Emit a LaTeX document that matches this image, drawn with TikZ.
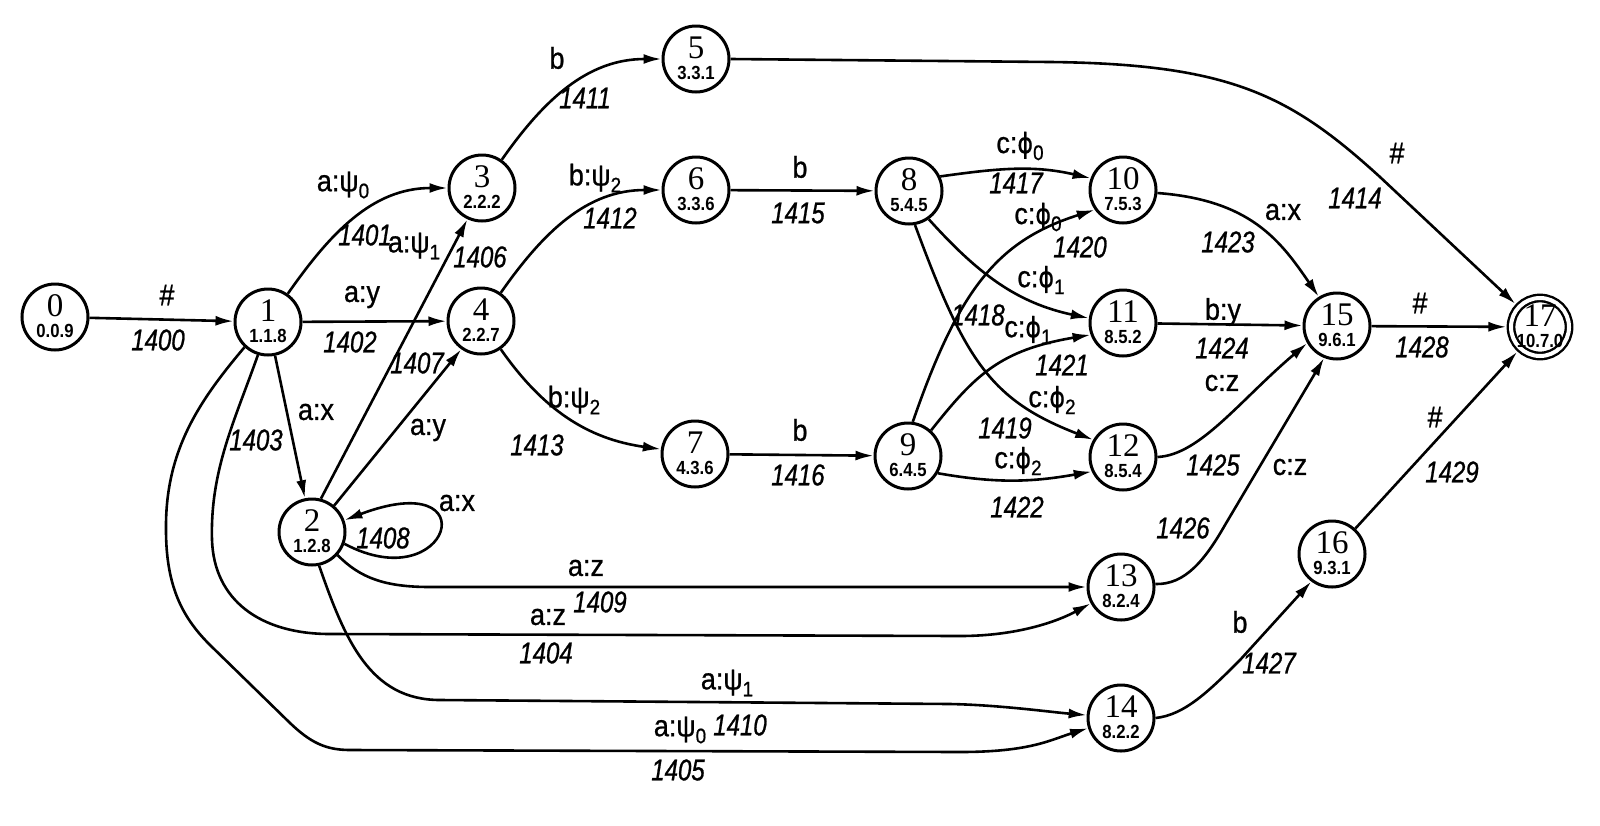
\documentclass[tikz,border=0pt]{standalone}
\usepackage{fontspec}
\setmainfont{Liberation Serif}
\newfontfamily\lsans[FakeStretch=0.9,FakeBold=0.8]{Liberation Sans}
\newfontfamily\lsansit[FakeStretch=0.8,FakeBold=0.8]{Liberation Sans}
\newfontfamily\lsub[FakeStretch=0.88]{Liberation Sans}
\newfontfamily\dvs[FakeStretch=0.85,FakeBold=0.6]{DejaVu Sans}
\usetikzlibrary{arrows.meta}
\newcommand\sbs[1]{\raisebox{-3.5pt}{\fontsize{10.5}{10}\selectfont #1}}
\newcommand\phis{{\dvs\fontsize{14}{14}\selectfont ϕ}}
\newcommand\stnode[4]{\node[st,label={[numl]center:#2},label={[subl]center:#3}] (#1) at (#4) {};}
\tikzset{
  st/.style={circle,draw,line width=1.5pt,minimum size=33pt,inner sep=0pt},
  stf/.style={circle,draw,line width=1.2pt,double,double distance=2pt,minimum size=29pt,inner sep=0pt,outer sep=2.3pt},
  numl/.style={font=\fontsize{16.5}{16}\selectfont,inner sep=0pt,yshift=5.5pt},
  subl/.style={font=\lsub\bfseries\fontsize{9.5}{9.5}\selectfont,inner sep=0pt,yshift=-7pt},
  ed/.style={line width=1.3pt,-{Latex[length=9pt,width=5pt]}},
  ul/.style={font=\lsans\fontsize{15}{15}\selectfont,inner sep=0pt},
  il/.style={font=\lsansit\itshape\fontsize{15}{15}\selectfont,inner sep=0pt},
}
\begin{document}
\begin{tikzpicture}[x=0.5pt,y=0.5pt]
\useasboundingbox (0,0) rectangle (1600,-825);
% states
\stnode{n0}{0}{0.0.9}{55,-317}
\stnode{n1}{1}{1.1.8}{268,-322}
\stnode{n2}{2}{1.2.8}{312,-532}
\stnode{n3}{3}{2.2.2}{482,-188}
\stnode{n4}{4}{2.2.7}{481,-321}
\stnode{n5}{5}{3.3.1}{696,-59}
\stnode{n6}{6}{3.3.6}{696,-190}
\stnode{n7}{7}{4.3.6}{695,-454}
\stnode{n8}{8}{5.4.5}{909,-191}
\stnode{n9}{9}{6.4.5}{908,-456}
\stnode{n10}{10}{7.5.3}{1123,-190}
\stnode{n11}{11}{8.5.2}{1123,-323}
\stnode{n12}{12}{8.5.4}{1123,-457}
\stnode{n13}{13}{8.2.4}{1121,-587}
\stnode{n14}{14}{8.2.2}{1121,-718}
\stnode{n15}{15}{9.6.1}{1337,-326}
\stnode{n16}{16}{9.3.1}{1332,-554}
\node[stf,label={[numl]center:17},label={[subl]center:10.7.0}] (n17) at (1540,-327) {};
% transitions
\draw[ed] (n0) -- (n1);
\draw[ed] (n1) to[out=55,in=180] (n3);
\draw[ed] (n1) -- (n4);
\draw[ed] (n1) -- (n2);
\draw[ed] (n1.-107) .. controls (235,-420) and (210,-470) .. (212,-540)
  .. controls (214,-600) and (260,-634) .. (330,-634) -- (960,-636)
  .. controls (1020,-636) and (1060,-620) .. (n13);
\draw[ed] (n1.-133) .. controls (200,-400) and (165,-450) .. (166,-530)
  .. controls (166,-590) and (185,-620) .. (210,-645) -- (290,-723)
  .. controls (310,-742) and (325,-750) .. (350,-750) -- (960,-752)
  .. controls (1030,-752) and (1050,-740) .. (n14);
\draw[ed] (n2.75) -- (n3.-115);
\draw[ed] (n2.50) -- (n4.-125);
\draw[ed] (n2.-20) .. controls (450,-600) and (490,-465) .. (n2.20);
\draw[ed] (n2.-42) .. controls (360,-578) and (385,-587) .. (430,-587) -- (n13);
\draw[ed] (n2.-78) .. controls (345,-640) and (370,-700) .. (440,-700) -- (950,-704)
  .. controls (1000,-705) and (1050,-712) .. (n14);
\draw[ed] (n3) to[out=55,in=180] (n5);
\draw[ed] (n4) to[out=55,in=180] (n6);
\draw[ed] (n4) to[out=-55,in=172] (n7);
\draw[ed] (n5.east) -- (1050,-62) .. controls (1230,-64) and (1290,-95) .. (1380,-177) -- (n17);
\draw[ed] (n6) -- (n8);
\draw[ed] (n7) -- (n9);
\draw[ed] (n8.25) to[out=8,in=167] (n10.160);
\draw[ed] (n8.-55) to[out=-48,in=168] (n11.172);
\draw[ed] (n8.-80) .. controls (965,-360) and (990,-400) .. (n12.150);
\draw[ed] (n9.82) .. controls (960,-285) and (1000,-240) .. (n10.215);
\draw[ed] (n9.48) .. controls (975,-375) and (1000,-350) .. (n11.200);
\draw[ed] (n9.-30) to[out=-10,in=190] (n12.205);
\draw[ed] (n10.-5) .. controls (1250,-200) and (1280,-240) .. (n15.122);
\draw[ed] (n11) -- (n15);
\draw[ed] (n12.0) .. controls (1200,-455) and (1240,-400) .. (n15.210);
\draw[ed] (n13.5) .. controls (1185,-585) and (1205,-560) .. (1225,-525) -- (n15.-112);
\draw[ed] (n14.0) .. controls (1185,-715) and (1210,-690) .. (1240,-660) -- (n16.233);
\draw[ed] (n15) -- (n17);
\draw[ed] (n16) -- (n17);
% labels
\node[ul] (u1400) at (167,-295) {\#};
\node[il] (i1400) at (158,-340) {1400};
\node[ul] (u1401) at (343,-185) {a:ψ\sbs{0}};
\node[il] (i1401) at (365,-235) {1401};
\node[ul] (u1402) at (362,-297) {a:y};
\node[il] (i1402) at (350,-342) {1402};
\node[ul] (u1403) at (316,-412) {a:x};
\node[il] (i1403) at (256,-440) {1403};
\node[ul] (u1404) at (548,-617) {a:z};
\node[il] (i1404) at (546,-653) {1404};
\node[ul] (u1405) at (680,-730) {a:ψ\sbs{0}};
\node[il] (i1405) at (678,-770) {1405};
\node[ul] (u1406) at (414,-246) {a:ψ\sbs{1}};
\node[il] (i1406) at (480,-257) {1406};
\node[il] (i1407) at (417,-363) {1407};
\node[ul] (u1407) at (428,-430) {a:y};
\node[ul] (u1408) at (457,-503) {a:x};
\node[il] (i1408) at (383,-538) {1408};
\node[ul] (u1409) at (586,-568) {a:z};
\node[il] (i1409) at (600,-602) {1409};
\node[ul] (u1410) at (727,-683) {a:ψ\sbs{1}};
\node[il] (i1410) at (740,-725) {1410};
\node[ul] (u1411) at (557,-58) {b};
\node[il] (i1411) at (585,-98) {1411};
\node[ul] (u1412) at (595,-178) {b:ψ\sbs{2}};
\node[il] (i1412) at (610,-218) {1412};
\node[ul] (u1413) at (574,-400) {b:ψ\sbs{2}};
\node[il] (i1413) at (537,-445) {1413};
\node[ul] (u1414) at (1397,-153) {\#};
\node[il] (i1414) at (1355,-198) {1414};
\node[ul] (u1415) at (800,-167) {b};
\node[il] (i1415) at (798,-213) {1415};
\node[ul] (u1416) at (800,-430) {b};
\node[il] (i1416) at (798,-475) {1416};
\node[ul] (u1417) at (1020,-146) {c:\phis\sbs{0}};
\node[il] (i1417) at (1016,-183) {1417};
\node[ul] (u1418) at (1041,-280) {c:\phis\sbs{1}};
\node[il] (i1418) at (978,-315) {1418};
\node[ul] (u1419) at (1052,-400) {c:\phis\sbs{2}};
\node[il] (i1419) at (1005,-428) {1419};
\node[ul] (u1420) at (1038,-217) {c:\phis\sbs{0}};
\node[il] (i1420) at (1080,-247) {1420};
\node[ul] (u1421) at (1028,-330) {c:\phis\sbs{1}};
\node[il] (i1421) at (1062,-365) {1421};
\node[ul] (u1422) at (1018,-461) {c:\phis\sbs{2}};
\node[il] (i1422) at (1017,-507) {1422};
\node[ul] (u1423) at (1283,-212) {a:x};
\node[il] (i1423) at (1228,-242) {1423};
\node[ul] (u1424) at (1223,-312) {b:y};
\node[il] (i1424) at (1222,-348) {1424};
\node[ul] (u1425) at (1222,-383) {c:z};
\node[il] (i1425) at (1213,-465) {1425};
\node[ul] (u1426) at (1290,-467) {c:z};
\node[il] (i1426) at (1183,-528) {1426};
\node[ul] (u1427) at (1240,-622) {b};
\node[il] (i1427) at (1269,-663) {1427};
\node[ul] (u1428) at (1420,-303) {\#};
\node[il] (i1428) at (1422,-347) {1428};
\node[ul] (u1429) at (1435,-417) {\#};
\node[il] (i1429) at (1452,-472) {1429};
\end{tikzpicture}
\end{document}
